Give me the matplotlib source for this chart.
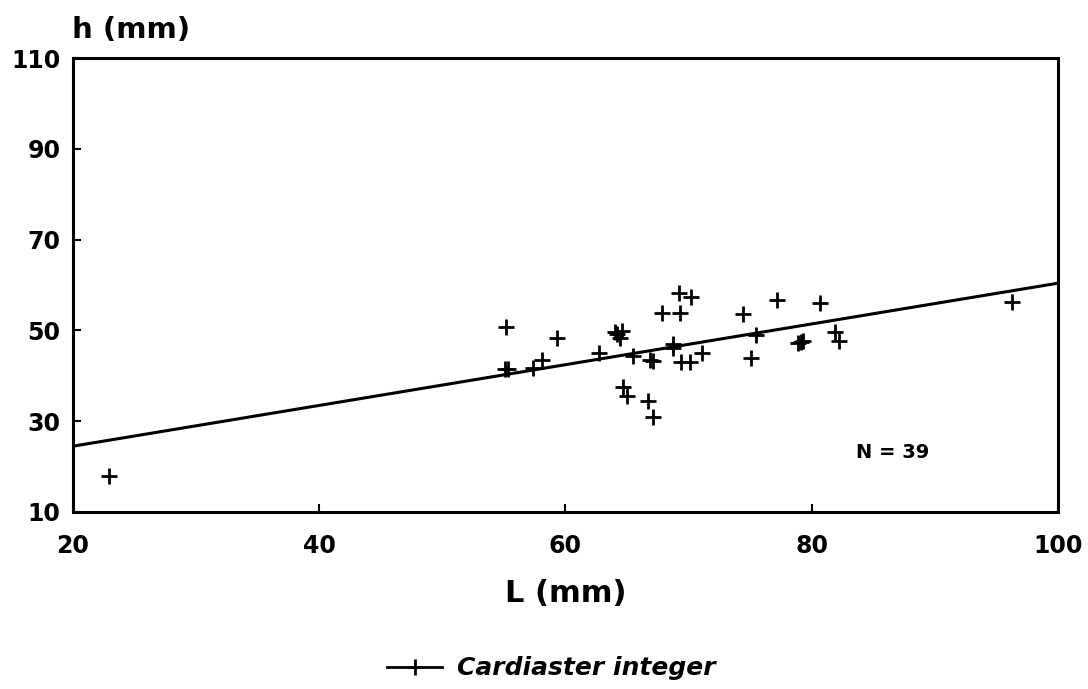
import numpy as np
import matplotlib.pyplot as plt
from matplotlib.lines import Line2D

plt.rcParams['font.family'] = ['DejaVu Sans']
plt.rcParams['font.weight'] = 'bold'

# shell length L (mm) and height h (mm)
L = [22.9, 55.2, 55.1, 55.3, 57.4, 58.1, 59.3, 62.7, 64.0, 64.6, 64.4, 64.2,
     65.5, 64.7, 65.0, 66.7, 67.1, 66.9, 67.1, 67.8, 69.3, 69.2, 70.2, 68.7,
     69.4, 70.1, 71.1, 74.4, 77.2, 75.5, 75.1, 79.1, 79.3, 80.7, 81.9, 82.2,
     96.3, 68.7, 78.9]
h = [17.9, 50.7, 41.4, 41.6, 41.8, 43.4, 48.3, 45.1, 49.6, 49.9, 48.3, 49.2,
     44.4, 37.5, 35.6, 34.5, 31.0, 43.5, 43.3, 53.8, 53.8, 58.3, 57.4, 46.1,
     43.1, 43.0, 45.0, 53.6, 56.7, 49.0, 43.9, 47.5, 47.7, 56.0, 49.7, 47.7,
     56.3, 47.0, 47.3]

# regression line end points
fit_x = [20, 100]
fit_y = [24.5, 60.4]

xticks = [20, 40, 60, 80, 100]
yticks = [10, 30, 50, 70, 90, 110]

fig = plt.figure(figsize=(10.88, 6.89), dpi=100)
ax = fig.add_axes([0.0671, 0.2569, 0.9053, 0.6589])

ax.plot(fit_x, fit_y, color='black', lw=2.2)
ax.plot(L, h, ls='none', marker='+', color='black', ms=12, mew=2)

ax.set_xlim(20, 100)
ax.set_ylim(10, 110)
ax.set_xticks(xticks)
ax.set_yticks(yticks)
ax.tick_params(direction='in', length=6, width=1.5, labelsize=17)
ax.tick_params(axis='x', pad=16)
ax.tick_params(axis='y', pad=9)
for s in ax.spines.values():
    s.set_linewidth(2.2)

ax.text(86.6, 23.2, 'N = 39', fontsize=14, fontweight='bold', ha='center', va='center')

fig.text(0.066, 0.956, 'h (mm)', fontsize=21, fontweight='bold', ha='left', va='center')
fig.text(0.520, 0.138, 'L (mm)', fontsize=22, fontweight='bold', ha='center', va='center')

handle = Line2D([], [], color='black', lw=2, marker='+', ms=12, mew=2)
leg = fig.legend(handles=[handle], labels=['Cardiaster integer'], loc='center',
                 bbox_to_anchor=(0.507, 0.03), frameon=False, handlelength=2.2,
                 handletextpad=0.6,
                 prop={'size': 18, 'weight': 'bold', 'style': 'italic'})

fig.savefig('out.png', dpi=100)
